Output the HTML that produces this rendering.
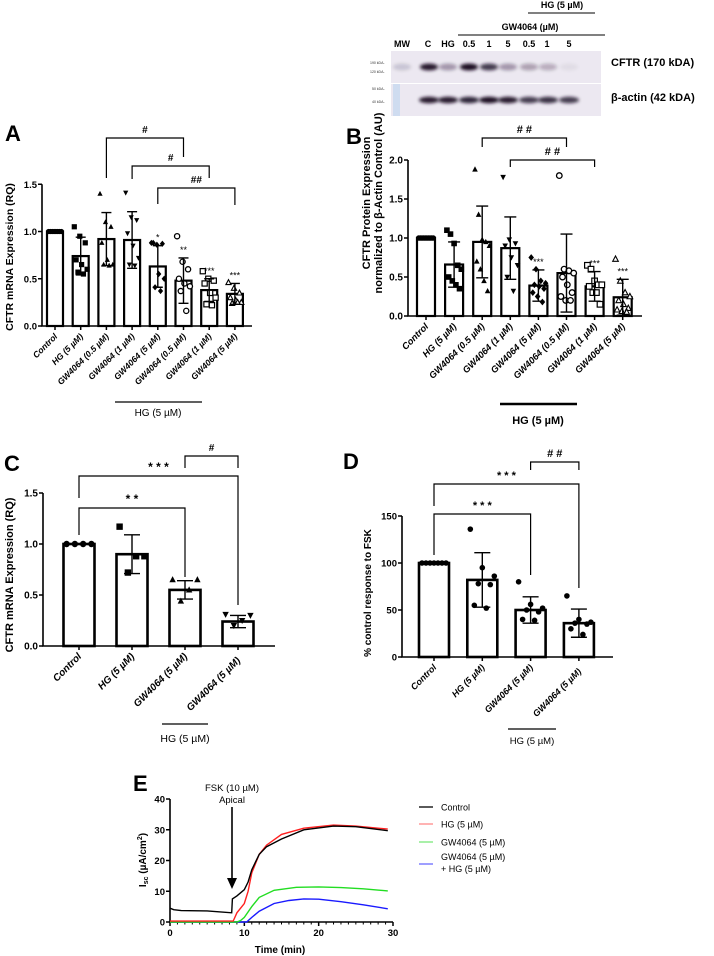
<!DOCTYPE html>
<html><head><meta charset="utf-8">
<style>
html,body{margin:0;padding:0;background:#fff;}
svg{display:block;font-family:"Liberation Sans",Arial,sans-serif;}
</style></head>
<body>
<svg id="fig" width="714" height="956" viewBox="0 0 714 956" xmlns="http://www.w3.org/2000/svg">
<defs>
<filter id="blur" x="-30%" y="-80%" width="160%" height="260%"><feGaussianBlur stdDeviation="1.6"/></filter>
</defs>
<g>
  <text x="562" y="8" font-size="9" font-weight="bold" text-anchor="middle">HG (5 µM)</text>
  <line x1="528" y1="13" x2="595" y2="13" stroke="#000" stroke-width="1"/>
  <text x="530" y="30" font-size="9" font-weight="bold" text-anchor="middle">GW4064 (µM)</text>
  <line x1="458" y1="35" x2="605" y2="35" stroke="#000" stroke-width="1"/>
  <g font-size="9" font-weight="bold" text-anchor="middle">
    <text x="402" y="47">MW</text><text x="428" y="47">C</text><text x="448" y="47">HG</text>
    <text x="469" y="47">0.5</text><text x="489" y="47">1</text><text x="508" y="47">5</text>
    <text x="529" y="47">0.5</text><text x="547" y="47">1</text><text x="569" y="47">5</text>
  </g>
  <rect x="391" y="51" width="210" height="32" fill="#ece8f1"/>
  <rect x="391" y="84" width="210" height="32" fill="#ece8f1"/>
  <rect x="393" y="84" width="7" height="32" fill="#cfdcf0"/>
  <g id="bands"></g>
  <g font-size="3.5" fill="#333">
    <text x="370" y="64">190 kDA-</text><text x="370" y="73">120 kDA-</text>
    <text x="372" y="90">50 kDA-</text><text x="372" y="103">40 kDA-</text>
  </g>
  <text x="611" y="66" font-size="11" font-weight="bold">CFTR (170 kDA)</text>
  <text x="611" y="101" font-size="11" font-weight="bold">β-actin (42 kDA)</text>
</g>
<g id="panelA"></g>
<g id="panelB"></g>
<g id="panelC"></g>
<g id="panelD"></g>
<g id="panelE"></g>
</svg>
<script>
const cftrBands = [0.15, 0.95, 0.35, 1.0, 0.8, 0.35, 0.3, 0.25, 0.05];
const actinBands = [0.0, 0.95, 0.95, 0.9, 1.0, 0.95, 0.8, 0.85, 0.8];

const aCategories = ["Control","HG (5 µM)","GW4064 (0.5 µM)","GW4064 (1 µM)","GW4064 (5 µM)","GW4064 (0.5 µM)","GW4064 (1 µM)","GW4064 (5 µM)"];
const aMeans = [1.0, 0.74, 0.92, 0.91, 0.63, 0.48, 0.38, 0.34];
const aSds = [0.0, 0.2, 0.28, 0.3, 0.22, 0.24, 0.12, 0.11];
const aPoints = [
 [1,1,1,1,1,1,1,1],
 [1.05,0.95,0.88,0.7,0.65,0.6,0.57,0.55],
 [1.4,1.1,1.05,0.88,0.7,0.65,0.65,0.64],
 [1.41,1.15,1.12,0.98,0.85,0.72,0.65,0.64],
 [0.88,0.86,0.87,0.88,0.55,0.5,0.41,0.37],
 [0.95,0.68,0.6,0.5,0.45,0.42,0.37,0.16],
 [0.58,0.5,0.48,0.45,0.35,0.3,0.23,0.22],
 [0.46,0.4,0.35,0.3,0.27,0.25,0.24,0.25]];
const aStars = ["","","","","*","**","***","***"];
const aTicks = [0, 0.5, 1.0, 1.5];
const aTickLabels = ["0.0","0.5","1.0","1.5"];

const bCategories = aCategories;
const bMeans = [1.0, 0.66, 0.95, 0.87, 0.39, 0.55, 0.38, 0.24];
const bSds = [0.0, 0.29, 0.46, 0.4, 0.2, 0.5, 0.19, 0.23];
const bPoints = [
 [1,1,1,1,1,1,1,1,1,1],
 [1.1,1.05,0.93,0.65,0.6,0.5,0.45,0.4,0.35],
 [1.88,1.3,0.98,0.95,0.9,0.7,0.6,0.45,0.32],
 [1.78,0.98,0.93,0.9,0.75,0.65,0.5,0.32],
 [0.75,0.6,0.45,0.42,0.4,0.38,0.35,0.3,0.25,0.18],
 [1.8,0.6,0.58,0.55,0.5,0.4,0.3,0.25,0.2,0.2],
 [0.65,0.6,0.45,0.4,0.4,0.38,0.3,0.3,0.15],
 [0.73,0.45,0.3,0.25,0.2,0.15,0.1,0.08,0.06,0.05]];
const bStars = ["","","","","***","","***","***"];
const bTicks = [0, 0.5, 1.0, 1.5, 2.0];
const bTickLabels = ["0.0","0.5","1.0","1.5","2.0"];

const cCategories = ["Control","HG (5 µM)","GW4064 (5 µM)","GW4064 (5 µM)"];
const cMeans = [1.0, 0.9, 0.55, 0.24];
const cSds = [0.0, 0.19, 0.09, 0.06];
const cPoints = [[1,1,1,1],[1.17,0.88,0.88,0.72],[0.65,0.65,0.55,0.44],[0.31,0.3,0.25,0.2]];
const cTicks = [0, 0.5, 1.0, 1.5];
const cTickLabels = ["0.0","0.5","1.0","1.5"];

const dCategories = cCategories;
const dMeans = [100, 82, 50, 36];
const dSds = [0, 29, 14, 15];
const dPoints = [[100,100,100,100,100,100,100],[136,95,86,78,77,55,52],[80,56,52,50,48,40,39],[65,40,37,36,35,30,24]];
const dTicks = [0, 50, 100, 150];
const dTickLabels = ["0","50","100","150"];

const eCtrlT = [0,0.5,1.5,5,8.3,8.4,9,10,10.5,11,12,13,15,18,22,25,29.3];
const eCtrlV = [4.5,4.0,3.7,3.6,3.0,7.5,8.5,10.5,13,17,22,24.5,27,30,31.2,31,29.7];
const eHgT = [0,8.5,9,10,10.5,11,12,13,15,18,22,25,29.3];
const eHgV = [0.3,0.3,3,6,10,16,22,25,28.5,30.5,31.5,31.2,30.2];
const eGwT = [0,9,9.5,10,11,12,14,17,20,23,26,29.3];
const eGwV = [0,0,0.5,1.5,5,8,10.3,11.3,11.4,11.2,10.8,10.1];
const eGwHgT = [0,10.3,11,12,14,16,18,20,23,26,29.3];
const eGwHgV = [0,0,1.5,3.5,6,7,7.5,7.4,6.6,5.6,4.3];
const eXTicks = [0,10,20,30];
const eYTicks = [0,10,20,30,40];

const NS = "http://www.w3.org/2000/svg";
function mk(parent, tag, attrs, text){
  const e = document.createElementNS(NS, tag);
  for (const k in attrs) e.setAttribute(k, attrs[k]);
  if (text !== undefined) e.textContent = text;
  parent.appendChild(e);
  return e;
}

(function(){
  const g = document.getElementById('bands');
  const lanes = [402,429,448,469,489,508,529,548,569];
  cftrBands.forEach((v,i)=>{
    const b = mk(g,'ellipse',{cx:lanes[i],cy:67,rx:9,ry:3.5,fill:'#1a0f24','fill-opacity':v,filter:'url(#blur)'});
    
    
  });
  actinBands.forEach((v,i)=>{
    const b = mk(g,'ellipse',{cx:lanes[i],cy:100,rx:10,ry:3.2,fill:'#1a0f24','fill-opacity':v,filter:'url(#blur)'});
    
    
  });
})();

function marker(g, type, x, y, r){
  let e;
  if (type==='circle') e = mk(g,'circle',{cx:x,cy:y,r:r,fill:'#000'});
  else if (type==='ocircle') e = mk(g,'circle',{cx:x,cy:y,r:r,fill:'#fff',stroke:'#000','stroke-width':1.3});
  else if (type==='square') e = mk(g,'rect',{x:x-r,y:y-r,width:2*r,height:2*r,fill:'#000'});
  else if (type==='osquare') e = mk(g,'rect',{x:x-r,y:y-r,width:2*r,height:2*r,fill:'#fff',stroke:'#000','stroke-width':1.2});
  else if (type==='tri') e = mk(g,'polygon',{points:`${x},${y-r*1.1} ${x-r},${y+r*0.8} ${x+r},${y+r*0.8}`,fill:'#000'});
  else if (type==='otri') e = mk(g,'polygon',{points:`${x},${y-r*1.1} ${x-r},${y+r*0.8} ${x+r},${y+r*0.8}`,fill:'#fff',stroke:'#000','stroke-width':1.1});
  else if (type==='dtri') e = mk(g,'polygon',{points:`${x},${y+r*1.1} ${x-r},${y-r*0.8} ${x+r},${y-r*0.8}`,fill:'#000'});
  else if (type==='diamond') e = mk(g,'polygon',{points:`${x},${y-r*1.2} ${x-r},${y} ${x},${y+r*1.2} ${x+r},${y}`,fill:'#000'});
  
  
}

function barChart(cfg){
  const g = document.getElementById(cfg.id);
  const n = cfg.categories.length;
  const xc = i => cfg.x1 + i*cfg.dx;
  const ys = v => cfg.y0 - (v - cfg.ticks[0]) * cfg.k;
  const top = ys(cfg.ticks[cfg.ticks.length-1]);
  for (let i=0;i<n;i++){
    const cx = xc(i), m = cfg.means[i];
    const bar = mk(g,'rect',{x:cx-cfg.bw/2,y:ys(m),width:cfg.bw,height:cfg.y0-ys(m),fill:'#fff',stroke:'#000','stroke-width':cfg.sw});
    
    
    const pts = cfg.points[i];
    const L = pts.length;
    const allSame = pts.every(v=>v===pts[0]);
    const mult = (L%3===0) ? 2 : 3;
    pts.forEach((v,j)=>{
      const pos = allSame ? j : (j*mult)%L;
      const off = L>1 ? (-0.4 + 0.8*pos/(L-1))*cfg.bw : 0;
      marker(g, cfg.markers[i], cx+off, ys(v), cfg.mr);
    });
    if (cfg.sds[i]>0){
      const eb = mk(g,'path',{d:`M${cx},${ys(m-cfg.sds[i])}V${ys(m+cfg.sds[i])}M${cx-cfg.cap},${ys(m-cfg.sds[i])}h${2*cfg.cap}M${cx-cfg.cap},${ys(m+cfg.sds[i])}h${2*cfg.cap}`,stroke:'#000','stroke-width':1.4,fill:'none'});
      
      
    }
    if (cfg.stars && cfg.stars[i]){
      const st = mk(g,'text',{x:cx,y:ys(m+cfg.sds[i])-5,'font-size':9,'text-anchor':'middle'},cfg.stars[i]);
      
      
    }
    mk(g,'line',{x1:cx,y1:cfg.y0,x2:cx,y2:cfg.y0+4,stroke:'#000','stroke-width':1.5});
    const lx = cx+3, ly = cfg.y0+cfg.lo + (cfg.lastOff && i===n-1 ? cfg.lastOff : 0);
    const t = mk(g,'text',{x:lx,y:ly,'font-size':cfg.fs,'font-weight':'bold','font-style':'italic','text-anchor':'end',transform:`rotate(-45 ${lx} ${ly})`},cfg.categories[i]);
    
    
  }
  const ax = mk(g,'path',{d:`M${cfg.x0},${top}V${cfg.y0}H${cfg.xEnd}`,stroke:'#000','stroke-width':1.6,fill:'none'});
  
  
  cfg.ticks.forEach((v,i)=>{
    mk(g,'line',{x1:cfg.x0-4,y1:ys(v),x2:cfg.x0,y2:ys(v),stroke:'#000','stroke-width':1.5});
    const tl = mk(g,'text',{x:cfg.x0-5,y:ys(v)+3.5,'font-size':cfg.yfs,'font-weight':'bold','text-anchor':'end'},cfg.tickLabels[i]);
    
    
  });
  (cfg.brackets||[]).forEach(b=>{
    const x1 = xc(b[0]), x2 = xc(b[1]);
    const br = mk(g,'path',{d:`M${x1},${b[3]}V${b[2]}H${x2}V${b[4]}`,stroke:'#000','stroke-width':1.2,fill:'none'});
    
    
    const bt = mk(g,'text',{x:(x1+x2)/2,y:b[2]-5,'font-size':b[6]||10,'text-anchor':'middle','font-weight':'bold'},b[5]);
    
    
  });
}

barChart({id:'panelA',categories:aCategories,means:aMeans,sds:aSds,points:aPoints,stars:aStars,ticks:aTicks,tickLabels:aTickLabels,
  markers:['circle','square','tri','dtri','diamond','ocircle','osquare','otri'],
  x0:42,x1:55,dx:25.7,bw:16,y0:326,k:94.5,xEnd:252,sw:2.2,mr:2.6,cap:5,fs:8.6,yfs:9.5,lo:11,
  brackets:[[2,5,138,178,157,'#'],[3,6,166,179,178,'#'],[4,7,188,204,205,'##']]});
barChart({id:'panelB',categories:bCategories,means:bMeans,sds:bSds,points:bPoints,stars:bStars,ticks:bTicks,tickLabels:bTickLabels,
  markers:['circle','square','tri','dtri','diamond','ocircle','osquare','otri'],
  x0:408,x1:426,dx:28.1,bw:18,y0:316,k:78,xEnd:642,sw:2.2,mr:2.8,cap:6,fs:9.3,yfs:10,lo:11,
  brackets:[[2,5,138,147,147,'# #',11],[3,6,160,167,167,'# #',11]]});
barChart({id:'panelC',categories:cCategories,means:cMeans,sds:cSds,points:cPoints,ticks:cTicks,tickLabels:cTickLabels,
  markers:['circle','square','tri','dtri'],
  x0:43,x1:79,dx:53,bw:31,y0:646,k:102,xEnd:275,sw:2.6,mr:3.2,cap:8,fs:10,yfs:10,lo:11,lastOff:4,
  brackets:[[0,3,476,498,605,'* * *',12],[0,2,508,535,577,'* *',12],[2,3,456,468,468,'#',10]]});
barChart({id:'panelD',categories:dCategories,means:dMeans,sds:dSds,points:dPoints,ticks:dTicks,tickLabels:dTickLabels,
  markers:['circle','circle','circle','circle'],
  x0:402,x1:434,dx:48.3,bw:30,y0:657,k:0.94,xEnd:613,sw:2.6,mr:2.8,cap:8,fs:9,yfs:9.5,lo:11,lastOff:4,
  brackets:[[0,3,484,506,588,'* * *',11],[0,2,514,555,575,'* * *',11],[2,3,462,470,470,'# #',11]]});

(function(){
  const svg = document.getElementById('fig');
  const add = (tag,attrs,text,name)=>{const e=mk(svg,tag,attrs,text);return e;};
  add('text',{x:5,y:141,'font-size':22,'font-weight':'bold'},'A','panel-letter-a');
  add('text',{x:346,y:144,'font-size':22,'font-weight':'bold'},'B','panel-letter-b');
  add('text',{x:4,y:471,'font-size':22,'font-weight':'bold'},'C','panel-letter-c');
  add('text',{x:343,y:469,'font-size':22,'font-weight':'bold'},'D','panel-letter-d');
  add('text',{x:133,y:791,'font-size':22,'font-weight':'bold'},'E','panel-letter-e');
  add('text',{x:13,y:257,'font-size':10.5,'font-weight':'bold','text-anchor':'middle',transform:'rotate(-90 13 257)'},'CFTR mRNA Expression (RQ)','y-axis-title-a');
  add('text',{x:370,y:203,'font-size':11,'font-weight':'bold','text-anchor':'middle',transform:'rotate(-90 370 203)'},'CFTR Protein Expression','y-axis-title-b-line1');
  add('text',{x:382,y:203,'font-size':11,'font-weight':'bold','text-anchor':'middle',transform:'rotate(-90 382 203)'},'normalized to β-Actin Control (AU)','y-axis-title-b-line2');
  add('text',{x:13,y:575,'font-size':11,'font-weight':'bold','text-anchor':'middle',transform:'rotate(-90 13 575)'},'CFTR mRNA Expression (RQ)','y-axis-title-c');
  add('text',{x:371,y:593,'font-size':10,'font-weight':'bold','text-anchor':'middle',transform:'rotate(-90 371 593)'},'% control response to FSK','y-axis-title-d');
  add('line',{x1:115,y1:402,x2:202,y2:402,stroke:'#000','stroke-width':1.2},undefined,'hg-group-line-a');
  add('text',{x:158,y:416,'font-size':10,'text-anchor':'middle'},'HG (5 µM)','hg-group-label-a');
  add('line',{x1:500,y1:404,x2:577,y2:404,stroke:'#000','stroke-width':2.5},undefined,'hg-group-line-b');
  add('text',{x:538,y:424,'font-size':11,'font-weight':'bold','text-anchor':'middle'},'HG (5 µM)','hg-group-label-b');
  add('line',{x1:162,y1:724,x2:208,y2:724,stroke:'#000','stroke-width':1.2},undefined,'hg-group-line-c');
  add('text',{x:185,y:742,'font-size':10.5,'text-anchor':'middle'},'HG (5 µM)','hg-group-label-c');
  add('line',{x1:508,y1:729,x2:556,y2:729,stroke:'#000','stroke-width':1.2},undefined,'hg-group-line-d');
  add('text',{x:532,y:744,'font-size':9.5,'text-anchor':'middle'},'HG (5 µM)','hg-group-label-d');
})();

(function(){
  const g = document.getElementById('panelE');
  const X0=170, X1=393, Y0=922, Y1=799;
  const xs = t => X0 + t/30*(X1-X0);
  const ys = v => Y0 - v/40*(Y0-Y1);
  const ax = mk(g,'path',{d:`M${X0},${Y1}V${Y0}H${X1}`,stroke:'#000','stroke-width':1.6,fill:'none'});
  
  
  for (let t=0;t<=30;t++){
    const major = eXTicks.includes(t);
    mk(g,'line',{x1:xs(t),y1:Y0,x2:xs(t),y2:Y0+(major?4:2.5),stroke:'#000','stroke-width':major?1.5:1});
  }
  eXTicks.forEach(t=>{
    const tl = mk(g,'text',{x:xs(t),y:Y0+14,'font-size':9.5,'font-weight':'bold','text-anchor':'middle'},String(t));
    
    
  });
  eYTicks.forEach(v=>{
    mk(g,'line',{x1:X0-4,y1:ys(v),x2:X0,y2:ys(v),stroke:'#000','stroke-width':1.5});
    const tl = mk(g,'text',{x:X0-5,y:ys(v)+3.5,'font-size':9.5,'font-weight':'bold','text-anchor':'end'},String(v));
    
    
  });
  const xt = mk(g,'text',{x:280,y:953,'font-size':10,'font-weight':'bold','text-anchor':'middle'},'Time (min)');
  
  
  const yt = mk(g,'text',{x:146,y:860,'font-size':10,'font-weight':'bold','text-anchor':'middle',transform:'rotate(-90 146 860)'});
  
  
  mk(yt,'tspan',{},'I');
  mk(yt,'tspan',{'font-size':7,dy:2},'sc');
  mk(yt,'tspan',{dy:-2},' (µA/cm');
  mk(yt,'tspan',{'font-size':7,dy:-4},'2');
  mk(yt,'tspan',{dy:4},')');
  const series = [[eGwHgT,eGwHgV,'#1a1aff'],[eGwT,eGwV,'#22dd22'],[eHgT,eHgV,'#ff2020'],[eCtrlT,eCtrlV,'#000']];
  const names = ['series-gw4064-hg','series-gw4064','series-hg','series-control'];
  series.forEach((s,i)=>{
    const p = s[0].map((t,j)=>xs(t).toFixed(1)+','+ys(s[1][j]).toFixed(1)).join(' ');
    const pl = mk(g,'polyline',{points:p,fill:'none',stroke:s[2],'stroke-width':1.4});
    
    
  });
  const ar = mk(g,'path',{d:`M232,807V880`,stroke:'#000','stroke-width':1.6});
  
  
  mk(g,'polygon',{points:'227,878 237,878 232,889',fill:'#000'});
  const f1 = mk(g,'text',{x:232,y:791,'font-size':9.5,'text-anchor':'middle'},'FSK (10 µM)');
  
  
  const f2 = mk(g,'text',{x:232,y:803,'font-size':9.5,'text-anchor':'middle'},'Apical');
  
  
  const leg = [['Control','#000',807],['HG (5 µM)','#ff8a8a',824],['GW4064 (5 µM)','#7be87b',842],['GW4064 (5 µM)','#6b6bff',864]];
  leg.forEach((l,i)=>{
    mk(g,'line',{x1:419,y1:l[2],x2:433,y2:l[2],stroke:l[1],'stroke-width':1.3});
    const lt = mk(g,'text',{x:441,y:i===3?l[2]-4:l[2]+3.5,'font-size':9},l[0]);
    
    
  });
  const lt2 = mk(g,'text',{x:441,y:872,'font-size':9},'+ HG (5 µM)');
  
  
})();
</script>
</body></html>
